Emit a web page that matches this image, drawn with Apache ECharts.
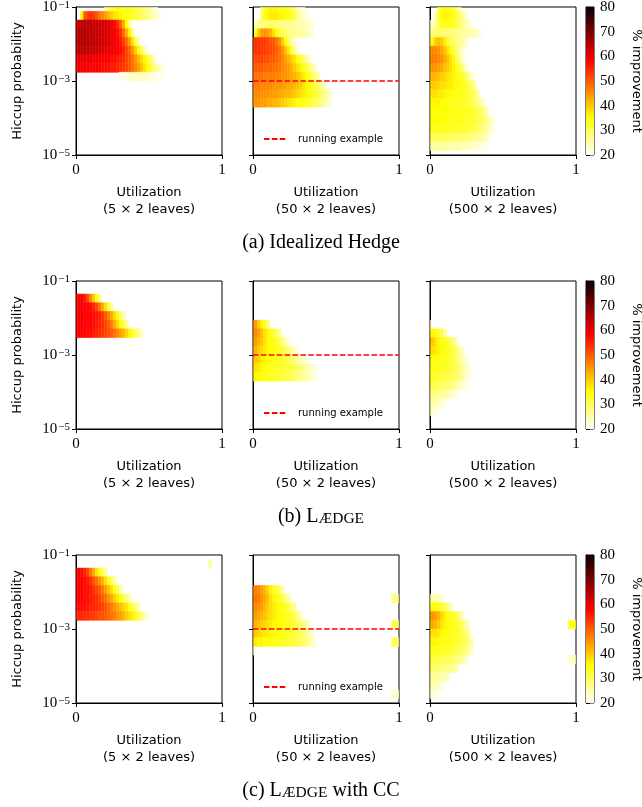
<!DOCTYPE html>
<html>
<head>
<meta charset="utf-8">
<script src="https://cdn.jsdelivr.net/npm/echarts@6/dist/echarts.min.js"></script>
<style>
html, body { margin: 0; padding: 0; background: #fff; }
#main { width: 642px; height: 807px; }
</style>
</head>
<body>
<div id="main"></div>
<script>
// measurement grid: 50 utilization steps in [0, 1], 18 log-spaced hiccup probabilities in [1e-5, 1e-1]
var utilSteps = 50;
var probSteps = 18;
var probMinExp = -5;
var probMaxExp = -1;
var runningExampleProb = 1e-3;
var probTicks = [-5, -3, -1];
var leafLabels = ['(5 × 2 leaves)', '(50 × 2 leaves)', '(500 × 2 leaves)'];
var captions = ['{n|(a) Idealized Hedge}', '{n|(b) L}{sc|ÆDGE}', '{n|(c) L}{sc|ÆDGE}{n| with CC}'];

// % improvement, one array per probability row, listed from the top row (1e-1) to the bottom (1e-5),
// one value per utilization step starting at 0; 0 = no improvement shown
var hedge5 = [
  [0,0,0,0,0,0,0,0,0,0,26,30,33,34,35,35,34,34,33,33,32,31,30,28,27,25,23,22],
  [0,0,36,50,53,54,53,51,48,46,44,42,40,38,37,36,35,34,34,33,32,31,30,29,27,26,24,23,22,21],
  [63,64,64,64,64,64,63,63,63,62,62,61,60,58,55,50,43,35,27],
  [64,65,65,65,64,64,64,63,63,62,62,61,60,59,57,54,49,43,36,28],
  [64,65,65,65,65,64,64,63,63,62,62,61,60,59,58,56,53,49,44,38,31,25],
  [63,64,64,64,64,63,63,62,62,61,61,60,60,59,58,57,55,52,49,45,40,35,30,25],
  [59,60,60,60,60,60,59,59,59,58,58,58,57,57,56,55,54,52,50,48,45,42,39,36,33,29,25],
  [58,59,59,59,59,58,58,58,58,57,57,57,56,56,55,54,53,52,50,48,46,44,41,38,35,32,29,26,24,22],
  [0,0,0,0,0,0,0,0,0,0,0,0,0,0,0,21,22,22,23,23,23,24,24,23,23,22,22,21,21,21],
  [], [], [], [], [], [], [], [], []
];
var hedge50 = [
  [0,0,0,28,33,35,36,36,36,35,35,34,33,31,28,25,23,22],
  [0,0,0,30,34,36,37,37,37,36,36,35,34,33,31,28,25,23,22],
  [0,24,27,28,28,29,29,29,28,28,28,27,27,26,26,25,25,24,24,23,22],
  [0,34,40,44,45,44,42,38,35,32,30,29,28,27,27,26,26,25,24,23,22],
  [53,54,54,53,53,52,51,50,48,45,40,35,30,26,23],
  [53,54,54,53,53,52,52,51,50,48,45,41,37,32,27,23],
  [51,52,52,52,51,51,50,50,49,48,46,44,42,40,38,35,32,29,26,23],
  [49,50,50,50,49,49,49,48,48,47,46,45,44,42,40,38,36,34,32,29,26,23],
  [48,48,48,48,47,47,47,47,46,46,45,45,44,43,42,41,39,37,35,33,30,28,25],
  [47,47,47,46,46,46,46,45,45,45,44,44,43,43,42,41,40,38,36,35,33,31,29,27,24],
  [45,46,46,45,45,45,44,44,44,43,43,42,42,41,40,39,38,37,36,35,34,32,31,29,27,25,23],
  [44,45,45,44,44,43,43,42,42,41,40,39,38,37,36,35,35,34,33,32,31,30,29,27,26,24,22],
  [], [], [], [], [], []
];
var hedge500 = [
  [0,0,0,30,34,35,35,34,31,27,24],
  [0,0,26,32,35,36,36,35,34,32,29,26,23],
  [23,24,27,30,33,34,34,34,33,31,29,27,25,23,22],
  [27,28,29,29,29,29,28,28,28,27,27,26,26,25,25,24,23,22],
  [32,36,40,41,40,37,33,30,29,28,27,26,24],
  [45,46,46,45,43,41,38,35,32,29,26,23],
  [46,47,47,46,45,43,41,38,35,31,27,23],
  [44,45,45,44,43,41,40,38,36,34,31,28,24],
  [41,42,42,41,40,39,38,37,36,35,34,32,30,27,24],
  [39,40,40,39,38,38,37,37,36,35,35,34,33,31,29,26],
  [37,38,38,37,37,36,36,35,35,34,34,34,33,32,31,29,26],
  [36,36,36,36,35,35,35,34,34,34,33,33,33,32,31,30,28,26,23],
  [35,35,35,35,35,35,35,35,34,34,34,34,34,33,33,32,31,30,28,25],
  [35,35,35,35,35,35,34,34,34,34,34,34,33,33,33,32,31,30,29,27,25,23],
  [34,34,34,34,34,34,34,33,33,33,33,33,33,32,32,31,30,29,28,26,24,22],
  [30,30,30,30,30,30,30,30,29,29,29,29,29,28,28,27,27,26,25,24,22],
  [26,26,26,26,26,26,25,25,25,25,25,24,24,24,23,23,23,22,22,21],
  []
];
var laedge5 = [
  [], [],
  [58,58,58,56,52,46,40,34,28],
  [59,59,59,58,58,57,55,52,48,43,38,32,26],
  [59,59,59,58,58,58,57,56,55,53,50,47,43,39,35,30,25],
  [59,59,59,58,58,58,57,56,55,54,52,50,47,43,39,35,31,27],
  [58,58,58,58,57,57,56,55,54,53,52,51,50,48,46,44,42,39,36,33,30,27,24],
  [], [], [], [], [], [], [], [], [], [], []
];
var laedge50 = [
  [], [], [], [], [],
  [46,44,40,36,33,29],
  [47,46,44,41,38,36,34,32,29,26],
  [45,44,42,40,38,36,35,34,33,31,28,25,22],
  [43,42,40,38,37,36,35,35,34,33,32,30,28,26,24,22],
  [41,40,39,37,36,35,35,34,34,33,33,32,31,29,27,26,24,23,22],
  [39,38,37,36,35,34,34,34,33,33,33,32,32,31,30,29,28,26,25,24,23,22],
  [37,36,35,35,34,34,33,33,33,32,32,31,31,30,29,28,27,26,25,24,23,22],
  [], [], [], [], [], []
];
var laedge500 = [
  [], [], [], [], [],
  [24],
  [35,36,35,33,30,26],
  [42,40,38,36,35,34,33,31,28,24],
  [40,38,37,36,35,35,34,33,31,29,26,23],
  [36,35,35,34,34,34,33,32,31,29,27,25,23],
  [35,34,34,34,33,33,33,32,31,30,28,26,24,22,21],
  [33,33,33,32,32,32,31,31,30,29,28,26,24,22,21],
  [31,31,31,30,30,29,29,28,27,26,24,23,22],
  [28,28,27,27,26,26,25,24,23,22],
  [26,26,25,24,23,22],
  [24,23,22,21],
  [], []
];
var cc5 = [
  [], [],
  [58,58,57,55,52,48,43,38,34,30,26],
  [58,58,58,57,56,54,51,48,45,42,38,34,30,26],
  [58,58,58,57,57,56,54,52,50,47,44,41,38,34,30,26],
  [58,58,58,57,57,56,55,54,52,50,48,45,43,40,37,34,31,28,25],
  [57,57,57,57,56,55,55,54,53,52,50,49,47,45,43,41,39,37,34,31,28,25],
  [55,55,55,54,54,53,53,52,51,51,50,49,48,47,45,44,42,40,38,36,34,31,28,25,22],
  [], [], [], [], [], [], [], [], [], []
];
var cc50 = [
  [], [], [], [],
  [46,47,46,44,42,39,36,34,32,29,25],
  [47,48,47,45,43,41,38,36,34,33,31,28,25],
  [46,46,45,44,42,40,38,37,36,35,34,33,31,29,26],
  [44,44,43,42,41,39,38,37,36,35,35,34,33,32,30,28,25],
  [42,42,41,40,39,38,37,36,36,35,35,34,34,33,32,30,29,27,25,23],
  [40,40,39,38,37,37,36,36,35,35,34,34,33,33,32,31,30,28,27,25,23],
  [37,37,36,36,35,35,35,34,34,34,33,33,33,32,32,31,30,29,28,26,24,22],
  [23],
  [], [], [], [], [], []
];
var cc500 = [
  [], [], [], [], [],
  [24,25,25,24,23],
  [34,35,35,34,33,31,28,25],
  [44,45,44,42,39,37,35,34,33,31,28,24],
  [42,43,42,40,38,36,35,34,34,33,31,29,26,23],
  [38,38,38,37,36,35,35,34,34,33,32,31,29,27],
  [36,36,36,35,35,34,34,34,33,33,32,31,30,28,25],
  [34,34,34,34,33,33,33,32,32,31,30,29,28,26,24],
  [32,32,32,31,31,31,30,30,29,28,27,26,24],
  [29,29,29,28,28,28,27,27,26,25],
  [27,27,26,26,25,25,24],
  [25,25,24,24,23],
  [23,23,22],
  []
];
// isolated cells near full utilization: [utilization step, probability row from the bottom, % improvement]
var cc5Stray = [[45, 16, 26]];
var cc50Stray = [[47, 12, 28], [48, 12, 28], [49, 12, 28], [47, 9, 30], [48, 9, 30], [49, 9, 30],
  [47, 7, 30], [48, 7, 30], [49, 7, 30], [47, 1, 23], [48, 1, 23], [49, 1, 23]];
var cc500Stray = [[47, 9, 34], [48, 9, 34], [49, 9, 34], [47, 5, 24], [48, 5, 24], [49, 5, 24]];

var panels = [[hedge5, hedge50, hedge500], [laedge5, laedge50, laedge500], [cc5, cc50, cc500]];
var strays = [[[], [], []], [[], [], []], [cc5Stray, cc50Stray, cc500Stray]];

var utilValues = [];
for (var i = 0; i < utilSteps; i++) utilValues.push(i / (utilSteps - 1));
var probExps = [];
for (var j = 0; j < probSteps; j++) probExps.push(probMinExp + j * (probMaxExp - probMinExp) / (probSteps - 1));
var halfW = 0.5 / (utilSteps - 1);
var halfH = 0.5 * (probMaxExp - probMinExp) / (probSteps - 1);

function cellsOf(rows, extra) {
    var out = [];
    rows.forEach(function (row, k) {
        var jr = probSteps - 1 - k;
        row.forEach(function (v, ic) {
            if (v > 0) out.push([utilValues[ic], probExps[jr], v]);
        });
    });
    extra.forEach(function (s) {
        out.push([utilValues[s[0]], probExps[s[1]], s[2]]);
    });
    return out;
}

// matplotlib 'hot_r' between 20 and 80
function hotR(v) {
    var s = (80 - v) / 60;
    var r = Math.min(1, 0.0416 + 0.9584 * s / 0.365079);
    var g = Math.min(1, Math.max(0, (s - 0.365079) / 0.380953));
    var b = Math.min(1, Math.max(0, (s - 0.746032) / 0.253968));
    return 'rgb(' + Math.round(r * 255) + ',' + Math.round(g * 255) + ',' + Math.round(b * 255) + ')';
}
var hotColors = [];
for (var v = 20; v <= 80; v++) hotColors.push(hotR(v));

function renderCell(params, api) {
    var x = api.value(0), y = api.value(1);
    var a = api.coord([x - halfW, y + halfH]);
    var b = api.coord([x + halfW, y - halfH]);
    var cs = params.coordSys;
    var shape = echarts.graphic.clipRectByRect(
        {x: a[0], y: a[1], width: b[0] - a[0], height: b[1] - a[1]},
        {x: cs.x + 0.5, y: cs.y + 0.5, width: cs.width - 1, height: cs.height - 1}
    );
    if (!shape) return;
    var c = api.visual('color');
    return {type: 'rect', shape: shape, style: {fill: c, stroke: c, lineWidth: 0.5}};
}

function renderBar(params, api) {
    var a = api.coord([0, api.value(2)]);
    var b = api.coord([1, api.value(1)]);
    var stops = hotColors.map(function (c, k) {
        return {offset: 1 - k / (hotColors.length - 1), color: c};
    }).reverse();
    return {
        type: 'rect',
        shape: {x: a[0], y: a[1], width: b[0] - a[0], height: b[1] - a[1]},
        style: {fill: new echarts.graphic.LinearGradient(0, 0, 0, 1, stops)}
    };
}

var serif = 'Liberation Serif';
var sans = 'DejaVu Sans';
var lefts = [76, 253, 430];
var tops = [7, 281, 555];
var panelW = 146, panelH = 148;

var grids = [], xAxes = [], yAxes = [], series = [], titles = [], legends = [];
var heatIdx = [];

for (var r = 0; r < 3; r++) {
    for (var c = 0; c < 3; c++) {
        var g = r * 3 + c;
        grids.push({left: lefts[c], top: tops[r], width: panelW, height: panelH, show: true,
            borderColor: '#000', borderWidth: 1, backgroundColor: 'transparent', outerBoundsMode: 'none'});
        xAxes.push({
            gridIndex: g, type: 'value', min: 0, max: 1, interval: 1,
            axisLine: {show: true, onZero: false, lineStyle: {color: '#000', width: 1}},
            axisTick: {show: true, length: 4, lineStyle: {color: '#000'}},
            axisLabel: {margin: 8, fontFamily: serif, fontSize: 15, color: '#000'},
            splitLine: {show: false},
            name: 'Utilization\n' + leafLabels[c], nameLocation: 'middle', nameGap: 29,
            nameTextStyle: {fontFamily: sans, fontSize: 13, lineHeight: 17, color: '#000'}
        });
        yAxes.push({
            gridIndex: g, type: 'value', min: probMinExp, max: probMaxExp,
            axisLine: {show: true, onZero: false, lineStyle: {color: '#000', width: 1}},
            axisTick: {show: true, length: 4, customValues: probTicks, lineStyle: {color: '#000'}},
            axisLabel: {
                show: c === 0, customValues: probTicks, margin: 6,
                formatter: function (val) { return '{b|10}{s|−' + Math.abs(val) + '}'; },
                rich: {
                    b: {fontFamily: serif, fontSize: 15, lineHeight: 15, verticalAlign: 'bottom', color: '#000', padding: [3, 0, 0, 0]},
                    s: {fontFamily: serif, fontSize: 11, lineHeight: 11, verticalAlign: 'top', color: '#000', padding: [0, 0, 0, 1]}
                }
            },
            splitLine: {show: false},
            name: c === 0 ? 'Hiccup probability' : '', nameLocation: 'middle', nameGap: 52,
            nameTextStyle: {fontFamily: sans, fontSize: 13, color: '#000'}
        });
        heatIdx.push(series.length);
        series.push({
            type: 'custom', name: 'improvement', xAxisIndex: g, yAxisIndex: g,
            dimensions: ['util', 'logProb', 'gain'], encode: {x: 0, y: 1},
            renderItem: renderCell, silent: true,
            data: cellsOf(panels[r][c], strays[r][c])
        });
    }
}

// colorbars
for (var r2 = 0; r2 < 3; r2++) {
    var gi = 9 + r2;
    grids.push({left: 586, top: tops[r2], width: 8, height: panelH, show: true,
        borderColor: '#000', borderWidth: 1, backgroundColor: 'transparent', outerBoundsMode: 'none'});
    xAxes.push({gridIndex: gi, type: 'value', min: 0, max: 1, show: false});
    yAxes.push({
        gridIndex: gi, type: 'value', min: 20, max: 80, interval: 10, position: 'right',
        axisLine: {show: true, lineStyle: {color: '#000', width: 1}},
        axisTick: {show: true, length: 4, lineStyle: {color: '#000'}},
        axisLabel: {margin: 6, fontFamily: serif, fontSize: 15, color: '#000'},
        splitLine: {show: false},
        name: '% improvement', nameLocation: 'middle', nameGap: 36, nameRotate: -90,
        nameTextStyle: {fontFamily: sans, fontSize: 13, color: '#000'}
    });
    series.push({
        type: 'custom', xAxisIndex: gi, yAxisIndex: gi, silent: true,
        renderItem: renderBar, data: [[0, 20, 80]]
    });
}

// running example line in the middle column
var runExp = Math.log10(runningExampleProb);
for (var r3 = 0; r3 < 3; r3++) {
    var gm = r3 * 3 + 1;
    series.push({
        type: 'line', name: 'running example', xAxisIndex: gm, yAxisIndex: gm,
        data: [[0, runExp], [1, runExp]], symbol: 'none', showSymbol: false, silent: true, z: 5,
        itemStyle: {color: 'rgba(0,0,0,0)', borderWidth: 0},
        lineStyle: {color: '#ff0000', width: 1.5, type: [5.5, 2.4]}
    });
    legends.push({
        data: [{name: 'running example', itemStyle: {opacity: 0}}], left: 263, top: tops[r3] + 127, padding: 0,
        itemWidth: 22, itemHeight: 10, selectedMode: false,
        textStyle: {fontFamily: sans, fontSize: 10, color: '#000', padding: [0, 0, 0, 7]}
    });
    titles.push({
        text: captions[r3], left: 'center', top: tops[r3] + panelH + 78, padding: 0,
        textStyle: {
            fontWeight: 'normal',
            rich: {
                n: {fontFamily: serif, fontSize: 20, lineHeight: 20, fontWeight: 'normal', verticalAlign: 'bottom', color: '#000'},
                sc: {fontFamily: serif, fontSize: 15.5, lineHeight: 15.5, fontWeight: 'normal', verticalAlign: 'bottom', color: '#000'}
            }
        }
    });
}

var myChart = echarts.init(document.getElementById('main'), null, {renderer: 'canvas'});
myChart.setOption({
    animation: false,
    backgroundColor: '#fff',
    title: titles,
    legend: legends,
    grid: grids,
    xAxis: xAxes,
    yAxis: yAxes,
    visualMap: {
        type: 'continuous', show: false, min: 20, max: 80, dimension: 2,
        seriesIndex: heatIdx, inRange: {color: hotColors}
    },
    series: series
});
</script>
</body>
</html>
